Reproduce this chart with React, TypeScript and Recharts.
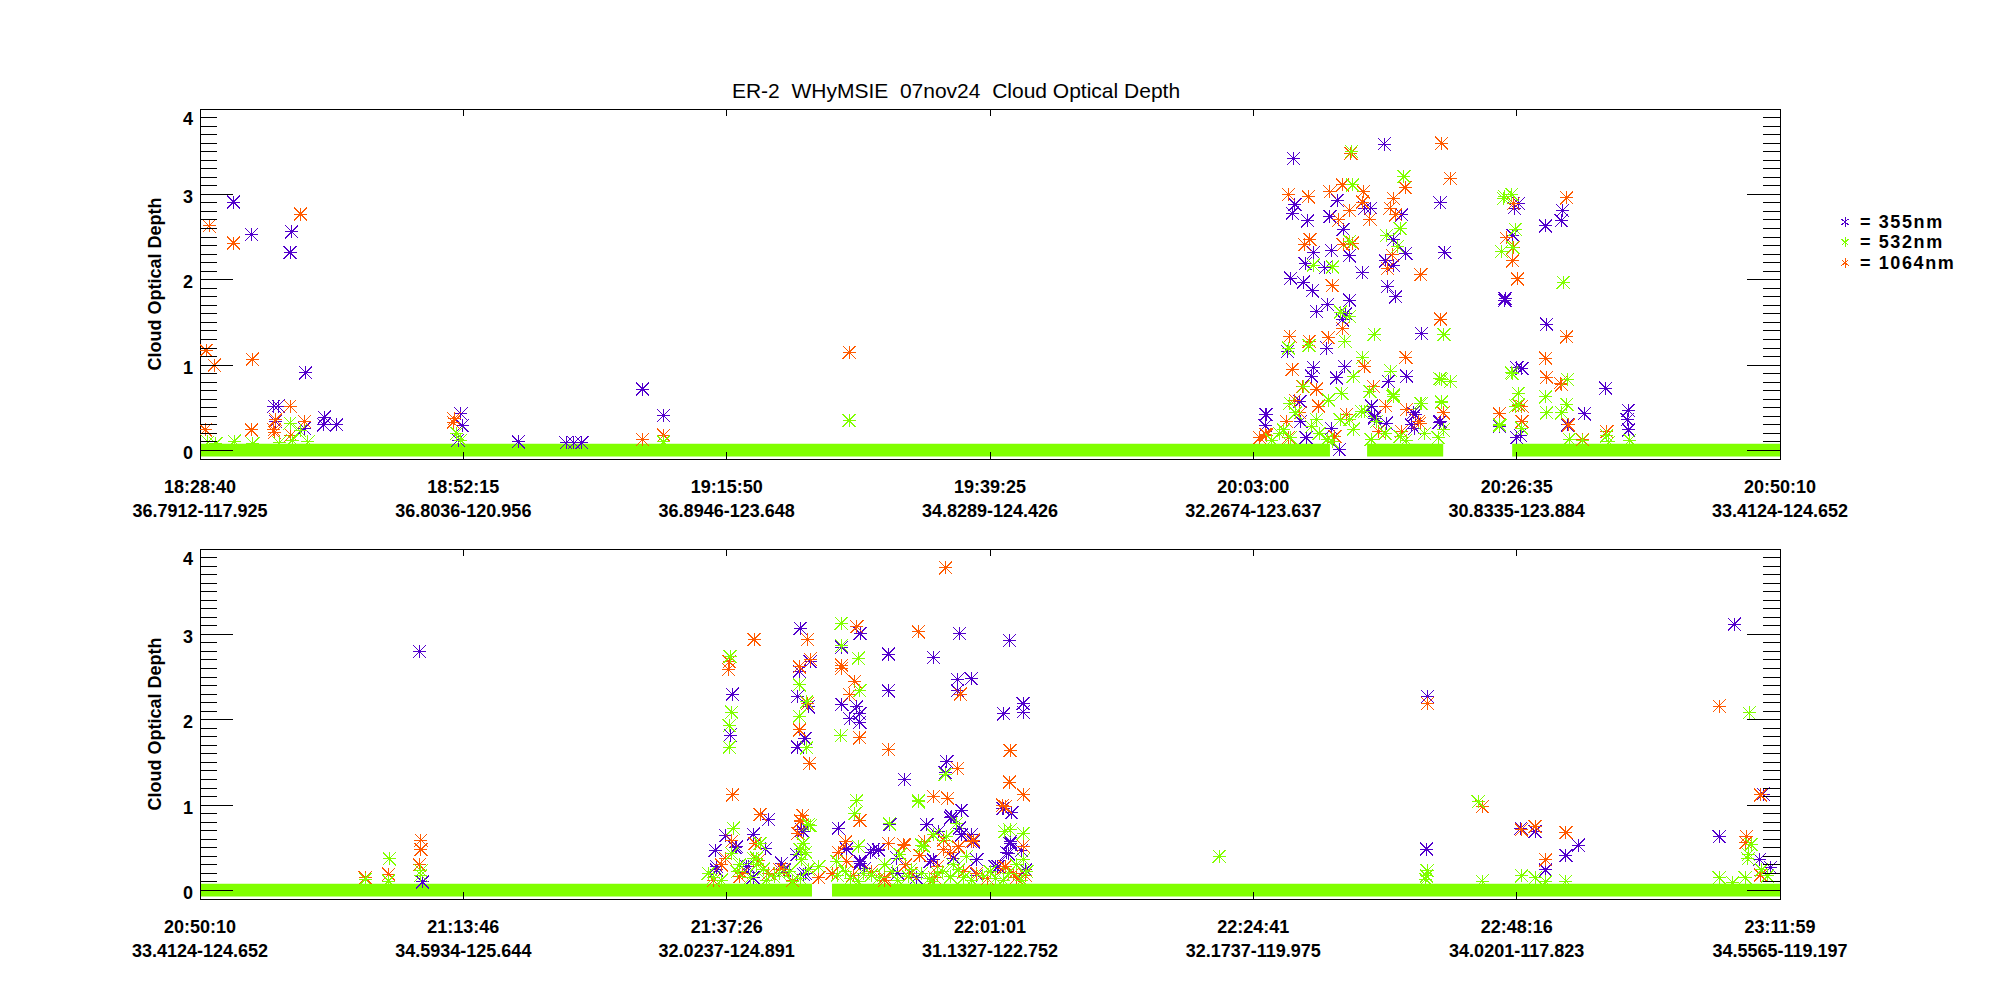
import React from 'react';
import { ScatterChart, Scatter, XAxis, YAxis, ReferenceArea } from 'recharts';

// ---------- tick labels ----------
const upperTimes = ['18:28:40', '18:52:15', '19:15:50', '19:39:25', '20:03:00', '20:26:35', '20:50:10'];
const upperLatLon = ['36.7912-117.925', '36.8036-120.956', '36.8946-123.648', '34.8289-124.426', '32.2674-123.637', '30.8335-123.884', '33.4124-124.652'];
const lowerTimes = ['20:50:10', '21:13:46', '21:37:26', '22:01:01', '22:24:41', '22:48:16', '23:11:59'];
const lowerLatLon = ['33.4124-124.652', '34.5934-125.644', '32.0237-124.891', '31.1327-122.752', '32.1737-119.975', '34.0201-117.823', '34.5565-119.197'];
const xTickPositions = [0, 1, 2, 3, 4, 5, 6];

// ---------- data: [position in tick intervals, cloud optical depth] ----------
// spans where the 532nm retrieval is ~0 (dense band of markers at 0)
const upperZeroSpans: [number, number][] = [[0, 4.291], [4.432, 4.721], [4.983, 6]];
const lowerZeroSpans: [number, number][] = [[0, 2.324], [2.4, 6]];

const upper355: [number, number][] = [
  [0.127, 2.91], [0.196, 2.53], [0.348, 2.56], [0.342, 2.32], [0.401, 0.91], [0.281, 0.52], [0.297, 0.52],
  [0.287, 0.34], [0.396, 0.26], [0.472, 0.39], [0.47, 0.3], [0.519, 0.3],
  [0.991, 0.43], [0.995, 0.29], [0.98, 0.12],
  [1.209, 0.1], [1.39, 0.09], [1.42, 0.09], [1.45, 0.09], [1.68, 0.72], [1.76, 0.41],
  [4.152, 3.42], [4.497, 3.59], [4.158, 2.88], [4.148, 2.78], [4.206, 2.69], [4.319, 2.93], [4.291, 2.74],
  [4.341, 2.59], [4.424, 2.84], [4.446, 2.84], [4.563, 2.76], [4.709, 2.9], [4.228, 2.32], [4.297, 2.34],
  [4.364, 2.28], [4.197, 2.19], [4.272, 2.14], [4.142, 2.02], [4.19, 1.97], [4.224, 1.87], [4.413, 2.08],
  [4.502, 2.22], [4.531, 2.47], [4.531, 2.17], [4.579, 2.31], [4.727, 2.32], [4.509, 1.92], [4.54, 1.8],
  [4.282, 1.71], [4.24, 1.63], [4.366, 1.76], [4.351, 1.6], [4.338, 1.53], [4.639, 1.37], [4.955, 1.76],
  [4.13, 1.16], [4.279, 1.2], [4.228, 0.97], [4.348, 0.98], [4.221, 0.87], [4.316, 0.85], [4.582, 0.87],
  [4.512, 0.81], [4.05, 0.42], [4.449, 0.52], [4.46, 0.38], [4.614, 0.42], [4.709, 0.34], [4.326, 0.01],
  [5.0, 0.97], [4.048, 0.42], [4.045, 0.29], [4.177, 0.575], [4.18, 0.34], [4.2, 0.15], [4.297, 0.26],
  [4.462, 0.4], [4.505, 0.32], [4.607, 0.44], [4.6, 0.3], [4.612, 0.26], [4.706, 0.33], [4.934, 0.28],
  [5.0, 0.15], [5.007, 2.89], [4.99, 2.84], [5.19, 2.96], [5.174, 2.81], [5.169, 2.69], [5.11, 2.63],
  [4.985, 2.52], [4.956, 1.78], [5.114, 1.48], [5.338, 0.73], [5.257, 0.43], [5.424, 0.47], [5.42, 0.36],
  [5.424, 0.24], [5.02, 0.96], [5.013, 0.18], [5.193, 0.3],
];

const upper532: [number, number][] = [
  [0.342, 0.32], [0.38, 0.23], [0.03, 0.1], [0.06, 0.08], [0.13, 0.11], [0.2, 0.08], [0.3, 0.09], [0.35, 0.12],
  [0.41, 0.1], [0.975, 0.2], [0.99, 0.12], [2.465, 0.35], [1.76, 0.1],
  [4.373, 3.5], [4.376, 3.11], [4.572, 3.21], [4.557, 2.6], [4.506, 2.52], [4.547, 2.39], [4.366, 2.45],
  [4.228, 2.17], [4.301, 2.15], [4.331, 1.62], [4.366, 1.57], [4.459, 1.36], [4.724, 1.36], [4.348, 1.28],
  [4.211, 1.23], [4.133, 1.2], [4.415, 1.09], [4.379, 0.87], [4.522, 0.93], [4.708, 0.84], [4.749, 0.81],
  [4.336, 0.67], [4.285, 0.59], [4.443, 0.69], [4.532, 0.65], [4.639, 0.55], [4.715, 0.56], [4.41, 0.46],
  [4.936, 0.29], [4.98, 0.91], [4.955, 2.97],
  [4.139, 0.555], [4.19, 0.75], [4.284, 0.59], [4.16, 0.44], [4.22, 0.28], [4.114, 0.24], [4.24, 0.36],
  [4.33, 0.36], [4.367, 0.36], [4.28, 0.13], [4.424, 0.46], [4.468, 0.34], [4.447, 0.13], [4.531, 0.63],
  [4.557, 0.165], [4.633, 0.555], [4.715, 0.57], [4.721, 0.24], [4.702, 0.15], [4.715, 0.83], [4.936, 0.3],
  [5.006, 0.67], [4.997, 0.52], [5.019, 0.26], [4.07, 0.12], [4.1, 0.2], [4.14, 0.15], [4.25, 0.2], [4.3, 0.1],
  [4.38, 0.25], [4.5, 0.2], [4.58, 0.12], [4.65, 0.2],
  [4.981, 3.0], [4.95, 2.95], [4.994, 2.59], [4.985, 2.38], [4.942, 2.33], [5.177, 1.97], [5.193, 0.83],
  [5.11, 0.63], [5.114, 0.44], [5.007, 0.54], [4.984, 0.9], [5.19, 0.54], [5.171, 0.44], [5.342, 0.17],
  [5.2, 0.13], [5.25, 0.12], [5.43, 0.12], [5.35, 0.1],
];

const upper1064: [number, number][] = [
  [0.035, 2.63], [0.023, 1.17], [0.054, 1.0], [0.02, 0.24], [0.127, 2.43], [0.199, 1.07], [0.196, 0.24],
  [0.382, 2.77], [0.342, 0.52], [0.345, 0.18], [0.396, 0.34], [0.287, 0.36], [0.281, 0.24], [0.283, 0.21],
  [0.962, 0.33], [0.965, 0.37], [1.68, 0.13], [1.761, 0.18], [2.465, 1.15],
  [4.715, 3.6], [4.37, 3.48], [4.133, 3.0], [4.209, 2.97], [4.291, 3.03], [4.339, 3.11], [4.418, 3.03],
  [4.747, 3.19], [4.576, 3.08], [4.532, 2.95], [4.415, 2.91], [4.365, 2.81], [4.443, 2.71], [4.325, 2.7],
  [4.519, 2.84], [4.541, 2.76], [4.215, 2.47], [4.196, 2.41], [4.341, 2.41], [4.376, 2.43], [4.527, 2.29],
  [4.509, 2.13], [4.299, 1.93], [4.636, 2.06], [4.711, 1.54], [4.338, 1.43], [4.139, 1.34], [4.212, 1.28],
  [4.284, 1.32], [4.148, 0.95], [4.421, 0.98], [4.579, 1.09], [4.24, 0.72], [4.187, 0.75], [4.456, 0.75],
  [4.126, 0.34], [4.247, 0.52], [4.934, 0.43], [4.354, 0.42], [4.582, 0.48], [4.721, 0.44], [4.627, 0.34],
  [4.05, 0.18], [4.045, 0.19], [4.025, 0.15], [4.158, 0.59], [4.177, 0.44], [4.133, 0.15], [4.31, 0.165],
  [4.503, 0.52], [4.475, 0.22], [4.633, 0.32], [4.563, 0.22], [5.02, 0.52], [5.02, 0.34],
  [4.988, 2.89], [5.19, 2.96], [4.96, 2.49], [4.988, 2.38], [4.985, 2.22], [5.003, 2.01], [5.19, 1.33],
  [5.11, 1.08], [5.114, 0.86], [5.171, 0.77], [5.165, 0.79], [5.007, 0.53], [5.197, 0.3], [5.342, 0.22],
  [5.25, 0.13],
];

const lower355: [number, number][] = [
  [0.833, 2.8], [0.845, 0.1],
  [2.507, 3.01], [2.279, 3.07], [2.884, 3.01], [3.074, 2.93], [2.614, 2.77], [2.785, 2.73], [2.317, 2.68],
  [2.276, 2.57], [2.437, 2.85], [2.021, 2.3], [2.269, 2.27], [2.31, 2.15], [2.614, 2.34], [2.876, 2.47],
  [2.928, 2.48], [2.876, 2.34], [3.126, 2.19], [3.126, 2.09], [3.052, 2.07], [2.437, 2.18], [2.494, 2.15],
  [2.468, 2.01], [2.506, 2.07], [2.506, 1.97], [2.013, 1.82], [2.297, 1.78], [2.269, 1.68], [2.675, 1.3],
  [2.836, 1.51], [2.83, 1.38], [2.159, 0.83], [2.89, 0.94], [2.85, 0.85], [3.08, 0.91], [3.048, 0.96],
  [2.618, 0.78], [2.424, 0.73], [2.76, 0.77], [2.29, 0.69], [1.997, 0.64], [2.101, 0.66], [1.956, 0.47],
  [2.038, 0.51], [2.146, 0.49], [2.884, 0.73], [2.892, 0.65], [2.928, 0.65], [3.076, 0.55], [3.12, 0.47],
  [3.07, 0.43], [2.577, 0.47], [2.545, 0.45], [2.455, 0.49], [2.506, 0.34], [2.209, 0.32], [2.076, 0.28],
  [1.962, 0.28], [2.785, 0.36], [3.03, 0.28], [3.135, 0.24], [2.1, 0.15], [2.3, 0.2], [2.65, 0.2],
  [2.72, 0.15], [2.95, 0.18],
  [2.032, 0.5], [1.962, 0.24], [2.083, 0.28], [2.22, 0.24], [2.285, 0.71], [2.266, 0.42], [2.29, 0.19],
  [2.456, 0.48], [2.507, 0.32], [2.525, 0.26], [2.557, 0.48], [2.576, 0.48], [2.62, 0.77], [2.646, 0.38],
  [2.804, 0.69], [2.855, 0.87], [2.893, 0.94], [2.937, 0.57], [2.861, 0.38], [2.773, 0.34], [2.95, 0.36],
  [3.051, 0.96], [3.083, 0.91], [3.077, 0.57], [3.064, 0.44], [3.019, 0.28],
  [4.661, 2.27], [4.658, 0.485], [5.016, 0.73], [5.07, 0.69], [5.234, 0.53], [5.187, 0.41], [5.11, 0.24],
  [5.826, 3.12], [5.936, 1.13], [5.769, 0.63], [5.922, 0.36], [5.964, 0.27],
];

const lower532: [number, number][] = [
  [0.719, 0.37], [0.716, 0.11], [0.627, 0.13], [0.839, 0.23], [0.839, 0.18],
  [2.435, 3.13], [2.013, 2.74], [2.437, 2.87], [2.5, 2.72], [2.506, 2.34], [2.276, 2.41], [2.304, 2.21],
  [2.019, 2.09], [2.009, 1.93], [2.01, 1.68], [2.276, 2.04], [2.304, 1.67], [2.434, 1.81], [2.83, 1.36],
  [2.728, 1.05], [2.494, 1.05], [2.487, 0.9], [2.618, 0.78], [2.31, 0.77], [2.025, 0.73], [2.02, 0.43],
  [3.056, 0.69], [3.076, 0.71], [3.126, 0.67], [2.785, 0.65], [2.836, 0.63], [2.74, 0.53], [2.418, 0.34],
  [2.3, 0.45], [2.29, 0.55], [2.05, 0.3], [2.1, 0.38], [2.2, 0.2], [2.35, 0.28], [2.45, 0.22], [2.55, 0.18],
  [2.6, 0.3], [2.7, 0.25], [2.8, 0.2], [2.86, 0.3], [2.9, 0.15], [3.0, 0.22], [3.1, 0.3], [3.05, 0.12],
  [1.95, 0.15], [2.15, 0.12], [2.25, 0.1], [2.5, 0.1], [2.65, 0.12], [2.78, 0.1],
  [2.127, 0.55], [2.114, 0.38], [2.114, 0.3], [2.279, 0.48], [2.285, 0.36], [2.317, 0.76], [2.5, 0.52],
  [2.658, 0.42], [2.728, 1.04], [2.747, 0.52], [2.874, 0.79], [2.911, 0.4], [3.127, 0.36],
  [1.93, 0.2], [1.98, 0.12], [2.04, 0.22], [2.09, 0.15], [2.14, 0.25], [2.18, 0.16], [2.24, 0.22],
  [2.28, 0.14], [2.31, 0.25], [2.42, 0.18], [2.47, 0.14], [2.52, 0.2], [2.58, 0.15], [2.63, 0.22],
  [2.69, 0.16], [2.74, 0.2], [2.77, 0.14], [2.82, 0.22], [2.85, 0.16], [2.88, 0.24], [2.93, 0.12],
  [2.97, 0.18], [3.02, 0.14], [3.07, 0.2], [3.12, 0.12], [3.14, 0.22],
  [3.87, 0.4],
  [4.66, 0.23], [4.658, 0.17], [4.655, 0.13], [4.854, 1.04], [4.869, 0.11], [5.019, 0.17], [5.07, 0.15],
  [5.11, 0.1], [5.187, 0.11], [5.883, 2.08], [5.89, 0.54], [5.88, 0.42], [5.878, 0.37], [5.93, 0.24],
  [5.769, 0.15], [5.868, 0.15], [5.953, 0.17], [5.82, 0.09],
];

const lower1064: [number, number][] = [
  [0.839, 0.59], [0.839, 0.48], [0.833, 0.3], [0.716, 0.19], [0.627, 0.15],
  [2.832, 3.78], [2.494, 3.09], [2.104, 2.94], [2.307, 2.94], [2.728, 3.03], [2.009, 2.68], [2.007, 2.59],
  [2.317, 2.71], [2.276, 2.62], [2.437, 2.64], [2.437, 2.6], [2.487, 2.45], [2.468, 2.29], [2.887, 2.3],
  [2.307, 2.19], [2.276, 1.88], [2.315, 1.49], [2.505, 1.79], [2.614, 1.65], [3.076, 1.64], [2.877, 1.43],
  [3.074, 1.27], [3.126, 1.12], [2.023, 1.12], [2.785, 1.1], [2.839, 1.08], [2.506, 0.82], [2.127, 0.89],
  [3.048, 1.0], [2.289, 0.88], [2.28, 0.82], [2.27, 0.67], [2.02, 0.58], [3.126, 0.52], [2.614, 0.55],
  [2.675, 0.53], [2.734, 0.41], [2.452, 0.57], [2.424, 0.45], [2.849, 0.45], [2.88, 0.51], [2.928, 0.57],
  [3.05, 0.26], [1.98, 0.3], [2.06, 0.2], [2.2, 0.25], [2.35, 0.15], [2.55, 0.22], [2.68, 0.3], [2.8, 0.28],
  [2.95, 0.2], [3.1, 0.15], [2.12, 0.35], [2.6, 0.15],
  [1.994, 0.38], [2.108, 0.55], [2.215, 0.24], [2.279, 0.81], [2.456, 0.34], [2.671, 0.54], [2.753, 0.57],
  [2.823, 0.48], [2.823, 0.59], [2.937, 0.59], [3.058, 0.98], [3.057, 0.28], [3.133, 0.18],
  [1.95, 0.12], [2.05, 0.16], [2.16, 0.2], [2.25, 0.12], [2.4, 0.2], [2.48, 0.18], [2.6, 0.12], [2.7, 0.2],
  [2.79, 0.15], [2.9, 0.22], [2.99, 0.14], [3.09, 0.2],
  [4.661, 2.19], [4.869, 0.98], [5.018, 0.71], [5.07, 0.75], [5.187, 0.68], [5.11, 0.36], [5.769, 2.16],
  [5.926, 1.12], [5.873, 0.63], [5.87, 0.56], [5.926, 0.18],
];

// ---------- styling ----------
const C355 = '#5200cc';
const C532 = '#80ff00';
const C1064 = '#ff5a00';
const FONT = '"Liberation Sans", Arial, Helvetica, sans-serif';

const CHART_W = 2000;
const CHART_H = 540;
const PLOT_W = 1580;
const PLOT_H = 350;
const MARGIN = { top: 109, right: 220, bottom: 21, left: 0 };
const Y_DOMAIN: [number, number] = [-0.1, 4];
const yTicks = Array.from({ length: 41 }, (_, i) => i / 10);

const toPts = (arr: [number, number][]) => arr.map(([x, y]) => ({ x, y }));

const makeStar = (color: string, r: number) => (props: any) => {
  const { cx, cy } = props;
  if (cx == null || cy == null) return <g />;
  return (
    <g stroke={color} strokeWidth={1} shapeRendering="crispEdges">
      <line x1={cx - r} x2={cx + r} y1={cy} y2={cy} />
      <line x1={cx} x2={cx} y1={cy - r} y2={cy + r} />
      <line x1={cx - r} x2={cx + r} y1={cy - r} y2={cy + r} />
      <line x1={cx - r} x2={cx + r} y1={cy + r} y2={cy - r} />
      <rect x={cx - 1} y={cy - 1} width={2} height={2} fill={color} stroke="none" />
    </g>
  );
};

const XTick = (props: any) => {
  const { x, y, payload, times, latlon } = props;
  const i = Math.round(payload.value);
  return (
    <g>
      <line x1={x} x2={x} y1={y} y2={y - 7} stroke="#000" shapeRendering="crispEdges" />
      <line x1={x} x2={x} y1={y - PLOT_H} y2={y - PLOT_H + 7} stroke="#000" shapeRendering="crispEdges" />
      <text x={x} y={y + 28} textAnchor="middle" dominantBaseline="central"
        style={{ fontFamily: FONT, fontSize: 18, fontWeight: 'bold', fill: '#000' }}>{times[i]}</text>
      <text x={x} y={y + 51.5} textAnchor="middle" dominantBaseline="central"
        style={{ fontFamily: FONT, fontSize: 18, fontWeight: 'bold', fill: '#000' }}>{latlon[i]}</text>
    </g>
  );
};

const YTick = (props: any) => {
  const { x, y, payload } = props;
  const v = payload.value;
  const major = Math.abs(v - Math.round(v)) < 1e-6;
  const len = major ? 33 : 17;
  return (
    <g>
      <line x1={x} x2={x + len} y1={y} y2={y} stroke="#000" shapeRendering="crispEdges" />
      <line x1={x + PLOT_W} x2={x + PLOT_W - len} y1={y} y2={y} stroke="#000" shapeRendering="crispEdges" />
      {major && (
        <text x={x - 7} y={y + (Math.round(v) === 4 ? 10 : 2.5)} textAnchor="end" dominantBaseline="central"
          style={{ fontFamily: FONT, fontSize: 18, fontWeight: 'bold', fill: '#000' }}>{Math.round(v)}</text>
      )}
    </g>
  );
};

interface PanelProps {
  top: number;
  times: string[];
  latlon: string[];
  s355: [number, number][];
  s532: [number, number][];
  s1064: [number, number][];
  zeros: [number, number][];
}

const Panel = ({ top, times, latlon, s355, s532, s1064, zeros }: PanelProps) => (
  <div style={{ position: 'absolute', left: 0, top, width: CHART_W, height: CHART_H }}>
    <ScatterChart width={CHART_W} height={CHART_H} margin={MARGIN}>
      <XAxis type="number" dataKey="x" domain={[0, 6]} ticks={xTickPositions} interval={0}
        height={60} tickSize={0} tickMargin={0} tickLine={false} allowDataOverflow
        axisLine={{ stroke: '#000', shapeRendering: 'crispEdges' }}
        tick={(p: any) => <XTick {...p} times={times} latlon={latlon} />} />
      <YAxis type="number" dataKey="y" domain={Y_DOMAIN} ticks={yTicks} interval={0}
        width={200} tickSize={0} tickMargin={0} tickLine={false} allowDataOverflow
        axisLine={{ stroke: '#000', shapeRendering: 'crispEdges' }}
        tick={(p: any) => <YTick {...p} />} />
      <ReferenceArea x1={0} x2={6} y1={Y_DOMAIN[0]} y2={Y_DOMAIN[1]} fill="none" fillOpacity={0}
        stroke="#000" strokeWidth={1} shapeRendering="crispEdges" />
      <Scatter data={toPts(s355)} fill={C355} shape={makeStar(C355, 6.5)} isAnimationActive={false} />
      <Scatter data={toPts(s1064)} fill={C1064} shape={makeStar(C1064, 6.5)} isAnimationActive={false} />
      <Scatter data={toPts(s532)} fill={C532} shape={makeStar(C532, 6.5)} isAnimationActive={false} />
      {zeros.map(([a, b], i) => (
        <ReferenceArea key={i} x1={a} x2={b} y1={-0.072} y2={0.078} fill={C532} fillOpacity={1}
          stroke="none" />
      ))}
    </ScatterChart>
  </div>
);

const LegendStar = ({ x, y, color }: { x: number; y: number; color: string }) => (
  <g stroke={color} strokeWidth={1} shapeRendering="crispEdges">
    <line x1={x} x2={x} y1={y - 5} y2={y + 5} />
    <line x1={x - 3.5} x2={x + 3.5} y1={y - 3} y2={y + 3} />
    <line x1={x - 3.5} x2={x + 3.5} y1={y + 3} y2={y - 3} />
  </g>
);

const legendItems = [
  { label: '= 355nm', color: C355 },
  { label: '= 532nm', color: C532 },
  { label: '= 1064nm', color: C1064 },
];

export default function App() {
  return (
    <div style={{ position: 'absolute', left: 0, top: 0, width: 2000, height: 1000, background: '#fff', overflow: 'hidden' }}>
      <Panel top={0} times={upperTimes} latlon={upperLatLon} s355={upper355} s532={upper532} s1064={upper1064} zeros={upperZeroSpans} />
      <Panel top={440} times={lowerTimes} latlon={lowerLatLon} s355={lower355} s532={lower532} s1064={lower1064} zeros={lowerZeroSpans} />
      <svg width={2000} height={1000} style={{ position: 'absolute', left: 0, top: 0, pointerEvents: 'none' }}>
        <text x={956} y={90} textAnchor="middle" dominantBaseline="central"
          style={{ fontFamily: FONT, fontSize: 21, fill: '#000', whiteSpace: 'pre' }}>{'ER-2  WHyMSIE  07nov24  Cloud Optical Depth'}</text>
        {[284, 724].map((cy) => (
          <text key={cy} x={155} y={cy} textAnchor="middle" dominantBaseline="central"
            transform={`rotate(-90 155 ${cy})`}
            style={{ fontFamily: FONT, fontSize: 18, fontWeight: 'bold', fill: '#000' }}>Cloud Optical Depth</text>
        ))}
        {legendItems.map((it, i) => (
          <g key={it.label}>
            <LegendStar x={1845} y={222 + i * 20.3} color={it.color} />
            <text x={1860} y={222 + i * 20.3} dominantBaseline="central"
              style={{ fontFamily: FONT, fontSize: 18, fontWeight: 'bold', fill: '#000', whiteSpace: 'pre', letterSpacing: 1.6 }}>{it.label}</text>
          </g>
        ))}
      </svg>
    </div>
  );
}
